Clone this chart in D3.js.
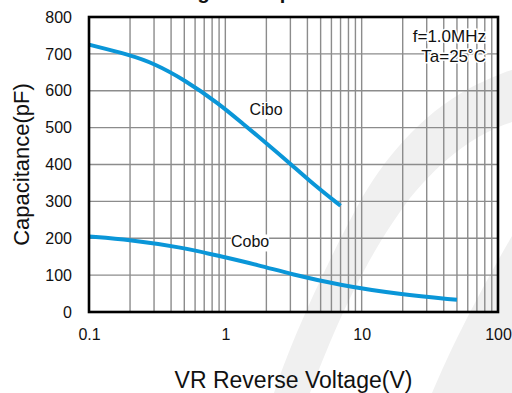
<!DOCTYPE html>
<html>
<head>
<meta charset="utf-8">
<script src="https://cdn.jsdelivr.net/npm/d3@7"></script>
<style>
  html, body { margin: 0; padding: 0; background: #fff; }
  svg { display: block; font-family: "Liberation Sans", Arial, sans-serif; }
</style>
</head>
<body>
<svg id="chart" width="512" height="393"></svg>
<script>
// Reverse voltage (V) and capacitance (pF) for each curve
const ciboVoltage = [0.1, 0.2, 0.3, 0.5, 0.9, 1.4, 2, 3, 4.4, 7];
const ciboCapacitance = [725, 697, 674, 630, 565, 505, 458, 402, 347, 288];
const coboVoltage = [0.1, 0.2, 0.47, 0.9, 1.8, 3, 7, 19, 50];
const coboCapacitance = [205, 196, 176, 152, 126, 103, 72, 48, 33];

const xTickValues = [0.1, 1, 10, 100];
const xTickLabels = ["0.1", "1", "10", "100"];
const yTickValues = [0, 100, 200, 300, 400, 500, 600, 700, 800];

const seriesNames = ["Cibo", "Cobo"];
const conditionLines = ["f=1.0MHz", "Ta=25\u02DAC"];

const svg = d3.select("#chart");
const margin = { left: 89, right: 14, top: 17, bottom: 81 };
const W = 512, H = 393;
const plotW = W - margin.left - margin.right;
const plotH = H - margin.top - margin.bottom;

const x = d3.scaleLog().domain([0.1, 100]).range([margin.left, margin.left + plotW]);
const y = d3.scaleLinear().domain([0, 800]).range([margin.top + plotH, margin.top]);

// faint background emblem
const mark = svg.append("g").attr("fill", "#f0f0f0");
mark.append("path").attr("d",
  "M274,393 C288,350 318,280 358,205 C383,160 420,115 470,88 C490,78 505,72 512,70 " +
  "L512,122 C480,132 445,155 410,198 C375,245 345,300 310,393 Z");
mark.append("path").attr("d",
  "M432,393 C450,350 475,300 512,236 L512,393 Z");

// grid
const grid = svg.append("g").attr("stroke", "#8c8c8c").attr("stroke-width", 1.4);
const minor = [];
[0.1, 1, 10].forEach(d => { for (let k = 1; k <= 9; k++) minor.push(d * k); });
grid.selectAll("line.v").data(minor.filter(v => v > 0.1)).join("line")
  .attr("class", "v")
  .attr("x1", d => x(d)).attr("x2", d => x(d))
  .attr("y1", y(800)).attr("y2", y(0));
grid.selectAll("line.h").data(yTickValues.slice(1)).join("line")
  .attr("class", "h")
  .attr("x1", x(0.1)).attr("x2", x(100))
  .attr("y1", d => y(d)).attr("y2", d => y(d));

// axes (labels only; the frame is drawn separately)
const yAxis = d3.axisLeft(y).tickValues(yTickValues).tickSize(0).tickPadding(17);
const gy = svg.append("g").attr("transform", `translate(${margin.left},0)`).call(yAxis);
gy.select(".domain").remove();
gy.selectAll("text").attr("font-size", 16).attr("font-family", "Liberation Sans, Arial, sans-serif").attr("fill", "#111");

const xAxis = d3.axisBottom(x).tickValues(xTickValues).tickFormat((d, i) => xTickLabels[i]).tickSize(0).tickPadding(17);
const gx = svg.append("g").attr("transform", `translate(0,${margin.top + plotH})`).call(xAxis);
gx.select(".domain").remove();
gx.selectAll("text").attr("font-size", 16).attr("font-family", "Liberation Sans, Arial, sans-serif").attr("fill", "#111");

// curves
const line = d3.line().x(d => x(d[0])).y(d => y(d[1])).curve(d3.curveBasis);
const series = [
  d3.zip(ciboVoltage, ciboCapacitance),
  d3.zip(coboVoltage, coboCapacitance)
];
svg.append("g").selectAll("path").data(series).join("path")
  .attr("d", line)
  .attr("fill", "none")
  .attr("stroke", "#0a96d8")
  .attr("stroke-width", 4)
  .attr("stroke-linecap", "butt");

// series labels with white backing
const labelPos = [{ v: 1.99, c: 534 }, { v: 1.52, c: 175 }];
const labels = svg.append("g").selectAll("g").data(seriesNames).join("g")
  .attr("transform", (d, i) => `translate(${x(labelPos[i].v)},${y(labelPos[i].c)})`);
labels.append("rect").attr("x", -19).attr("y", -13).attr("width", 38).attr("height", 17).attr("fill", "#fff");
labels.append("text").text(d => d).attr("text-anchor", "middle")
  .attr("font-size", 16).attr("fill", "#111");

// measurement conditions
svg.append("g").selectAll("text").data(conditionLines).join("text")
  .attr("x", 486).attr("y", (d, i) => 42 + i * 20)
  .attr("text-anchor", "end").attr("font-size", 17).attr("fill", "#111")
  .attr("stroke", "#fff").attr("stroke-width", 3).attr("paint-order", "stroke")
  .text(d => d);

// frame
svg.append("rect")
  .attr("x", margin.left).attr("y", margin.top)
  .attr("width", plotW).attr("height", plotH)
  .attr("fill", "none").attr("stroke", "#000").attr("stroke-width", 2.6);

// axis titles
svg.append("text")
  .attr("transform", `translate(28.5,${margin.top + plotH / 2}) rotate(-90)`)
  .attr("text-anchor", "middle").attr("font-size", 22).attr("fill", "#111")
  .text("Capacitance(pF)");
svg.append("text")
  .attr("x", margin.left + plotW / 2).attr("y", 388)
  .attr("text-anchor", "middle").attr("font-size", 23).attr("fill", "#111")
  .text("VR Reverse Voltage(V)");

// chart title, mostly above the visible area
svg.append("text")
  .attr("x", 150).attr("y", -1)
  .attr("font-size", 20).attr("font-weight", "bold").attr("fill", "#111")
  .text("Voltage vs Capacitance");
</script>
</body>
</html>
